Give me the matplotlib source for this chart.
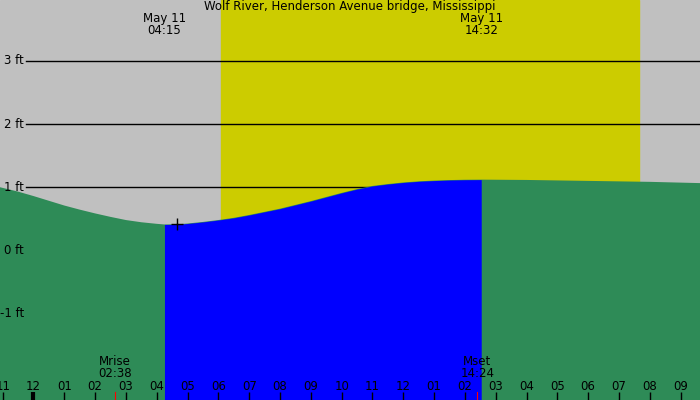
import matplotlib
matplotlib.use('Agg')
import matplotlib.pyplot as plt
import numpy as np

TITLE = "Wolf River, Henderson Avenue bridge, Mississippi"

# tide curve (hours since midnight May 11, feet)
hours = [-1.09, -0.5, 0, 0.5, 1, 1.5, 2, 2.5, 3, 3.5, 4, 4.25, 4.65, 5, 5.5, 6, 6.5, 7, 7.5,
         8, 8.5, 9, 9.5, 10, 10.5, 11, 11.5, 12, 12.5, 13, 13.5, 14, 14.53, 16, 18, 20, 21.63]
heights = [1.00, 0.93, 0.86, 0.785, 0.71, 0.645, 0.585, 0.53, 0.48, 0.445, 0.42, 0.41, 0.412,
           0.425, 0.45, 0.48, 0.515, 0.56, 0.61, 0.66, 0.72, 0.78, 0.845, 0.91, 0.97, 1.02,
           1.05, 1.075, 1.093, 1.105, 1.113, 1.118, 1.12, 1.115, 1.10, 1.085, 1.065]

low_time, low_label = 4.25, "04:15"
high_time, high_label = 14.53, "14:32"
tide_date = "May 11"
sunrise, sunset = 6.08, 19.64
moonrise, moonrise_label = 2.64, "02:38"
moonset, moonset_label = 14.40, "14:24"
marker_time, marker_height = 4.65, 0.41

ft_levels = [3, 2, 1, 0, -1]
hour_ticks = list(range(-1, 22))

X0, X1 = -1.087, 21.63
Y0, Y1 = -2.37, 3.965

fig = plt.figure(figsize=(7, 4), dpi=100)
ax = fig.add_axes([0, 0, 1, 1])
ax.set_xlim(X0, X1); ax.set_ylim(Y0, Y1)
ax.axis('off')

ax.axvspan(X0, X1, color='#c0c0c0', zorder=0)
ax.axvspan(sunrise, sunset, color='#cccc00', zorder=0.5)

for lv in ft_levels:
    ax.axhline(lv, xmin=26 / 700, xmax=1, color='black', lw=1, zorder=1)
    ax.text(X0 + 24 / 700 * (X1 - X0), lv, f'{lv} ft', ha='right', va='center',
            fontsize=8.5, color='black', zorder=5)

t = np.array(hours); h = np.array(heights)
ax.fill_between(t, h, Y0, color='#2e8b57', lw=0, zorder=2)
ax.fill_between(t, h, Y0, where=(t >= low_time) & (t <= high_time), interpolate=False,
                color='#0000ff', lw=0, zorder=3)

ax.plot([marker_time], [marker_height], marker='+', color='black', ms=8, mew=1, zorder=6)

tr = ax.get_xaxis_transform()
ax.text(0.5, 0.983, TITLE, transform=ax.transAxes, ha='center', va='center', fontsize=8.5)
for tt, lab in [(low_time, low_label), (high_time, high_label)]:
    ax.text(tt, 0.953, tide_date, transform=tr, ha='center', va='center', fontsize=8.5)
    ax.text(tt, 0.923, lab, transform=tr, ha='center', va='center', fontsize=8.5)

for tt, name, lab in [(moonrise, 'Mrise', moonrise_label), (moonset, 'Mset', moonset_label)]:
    ax.text(tt, 0.096, name, transform=tr, ha='center', va='center', fontsize=8.5, zorder=6)
    ax.text(tt, 0.066, lab, transform=tr, ha='center', va='center', fontsize=8.5, zorder=6)
    ax.plot([tt, tt], [0, 0.02], transform=tr, color='red', lw=0.8, zorder=6)

for hr in hour_ticks:
    lab = f'{(hr % 12) or 12:02d}'
    ax.text(hr, 0.035, lab, transform=tr, ha='center', va='center', fontsize=8.5, zorder=6)
    lw = 3 if hr % 24 == 0 else 1
    ax.plot([hr, hr], [0, 0.02], transform=tr, color='black', lw=lw, zorder=6, solid_capstyle='butt')

fig.savefig('out.png', dpi=100)
